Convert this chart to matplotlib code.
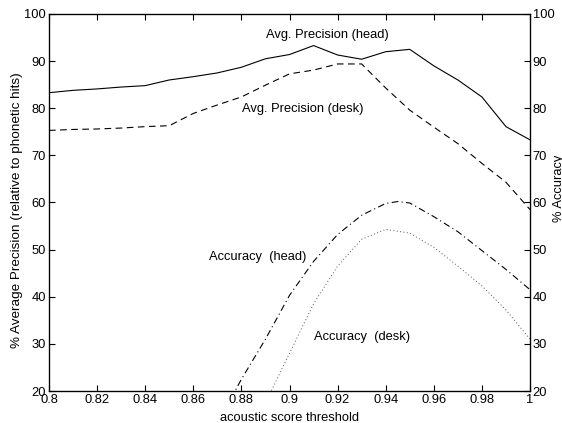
import matplotlib
matplotlib.use("Agg")
import matplotlib.pyplot as plt

plt.rcParams['font.family'] = ['Liberation Sans', 'DejaVu Sans']

thresholds = [0.80, 0.81, 0.82, 0.83, 0.84, 0.85, 0.86, 0.87, 0.88, 0.89, 0.90,
              0.91, 0.92, 0.93, 0.94, 0.95, 0.96, 0.97, 0.98, 0.99, 1.00]
prec_head = [83.3, 83.8, 84.1, 84.5, 84.8, 86.0, 86.7, 87.5, 88.7, 90.5, 91.4,
             93.3, 91.3, 90.4, 92.0, 92.5, 89.0, 86.0, 82.4, 76.1, 73.3]
prec_desk = [75.3, 75.5, 75.6, 75.8, 76.1, 76.3, 78.9, 80.7, 82.4, 84.9, 87.3,
             88.1, 89.4, 89.4, 84.3, 79.6, 76.0, 72.5, 68.3, 64.3, 58.5]

acc_x_head = [0.87, 0.88, 0.89, 0.90, 0.91, 0.92, 0.93, 0.94, 0.945, 0.95,
              0.96, 0.97, 0.98, 0.99, 1.00]
acc_head = [13.0, 22.5, 31.0, 40.3, 47.5, 53.2, 57.3, 59.8, 60.2, 59.9,
            57.0, 53.8, 49.8, 45.8, 41.5]
acc_x_desk = [0.89, 0.90, 0.91, 0.92, 0.93, 0.94, 0.95, 0.96, 0.97, 0.98, 0.99, 1.00]
acc_desk = [17.5, 28.0, 38.5, 46.5, 52.2, 54.3, 53.5, 50.5, 46.5, 42.3, 37.2, 31.0]

xticks = [0.8, 0.82, 0.84, 0.86, 0.88, 0.9, 0.92, 0.94, 0.96, 0.98, 1.0]
xticklabels = ['0.8', '0.82', '0.84', '0.86', '0.88', '0.9', '0.92', '0.94', '0.96', '0.98', '1']
yticks = [20, 30, 40, 50, 60, 70, 80, 90, 100]

fs = 9.3
fig = plt.figure(figsize=(5.62, 4.23), dpi=100)
ax = fig.add_axes([49/562, 1-391/423, (530-49)/562, (391-14)/423])
ax.plot(thresholds, prec_head, color='black', lw=0.8, ls='-')
ax.plot(thresholds, prec_desk, color='black', lw=0.8, ls=(0, (6, 4)))
ax.set_xlim(0.8, 1.0)
ax.set_ylim(20, 100)
ax.set_xticks(xticks)
ax.set_xticklabels(xticklabels)
ax.set_yticks(yticks)
ax.tick_params(direction='in', length=4, width=0.8, labelsize=fs, top=True, pad=2)
for s in ax.spines.values():
    s.set_linewidth(0.9)
fig.text(289/562, 2/423, 'acoustic score threshold', fontsize=fs,
         ha='center', va='baseline')
fig.text(11/562, 1-210/423, '% Average Precision (relative to phonetic hits)',
         fontsize=9.7, rotation=90, ha='left', va='center')

ax2 = ax.twinx()
ax2.plot(acc_x_head, acc_head, color='black', lw=0.8, ls=(0, (6, 3, 1, 3)))
ax2.plot(acc_x_desk, acc_desk, color='#555555', lw=0.7, ls=(0, (1, 2.5)))
ax2.set_ylim(20, 100)
ax2.set_yticks(yticks)
ax2.tick_params(direction='in', length=4, width=0.8, labelsize=fs, pad=2)
fig.text(553/562, 1-188/423, '% Accuracy', fontsize=fs, rotation=90,
         ha='left', va='center')

ax.text(0.9158, 94.3, 'Avg. Precision (head)', fontsize=fs, ha='center', va='bottom')
ax.text(0.9056, 79.8, 'Avg. Precision (desk)', fontsize=fs, ha='center', va='center')
ax.text(0.8867, 48.5, 'Accuracy  (head)', fontsize=fs, ha='center', va='center')
ax2.text(0.930, 31.5, 'Accuracy  (desk)', fontsize=fs, ha='center', va='center')

fig.savefig('out.png', dpi=100)
